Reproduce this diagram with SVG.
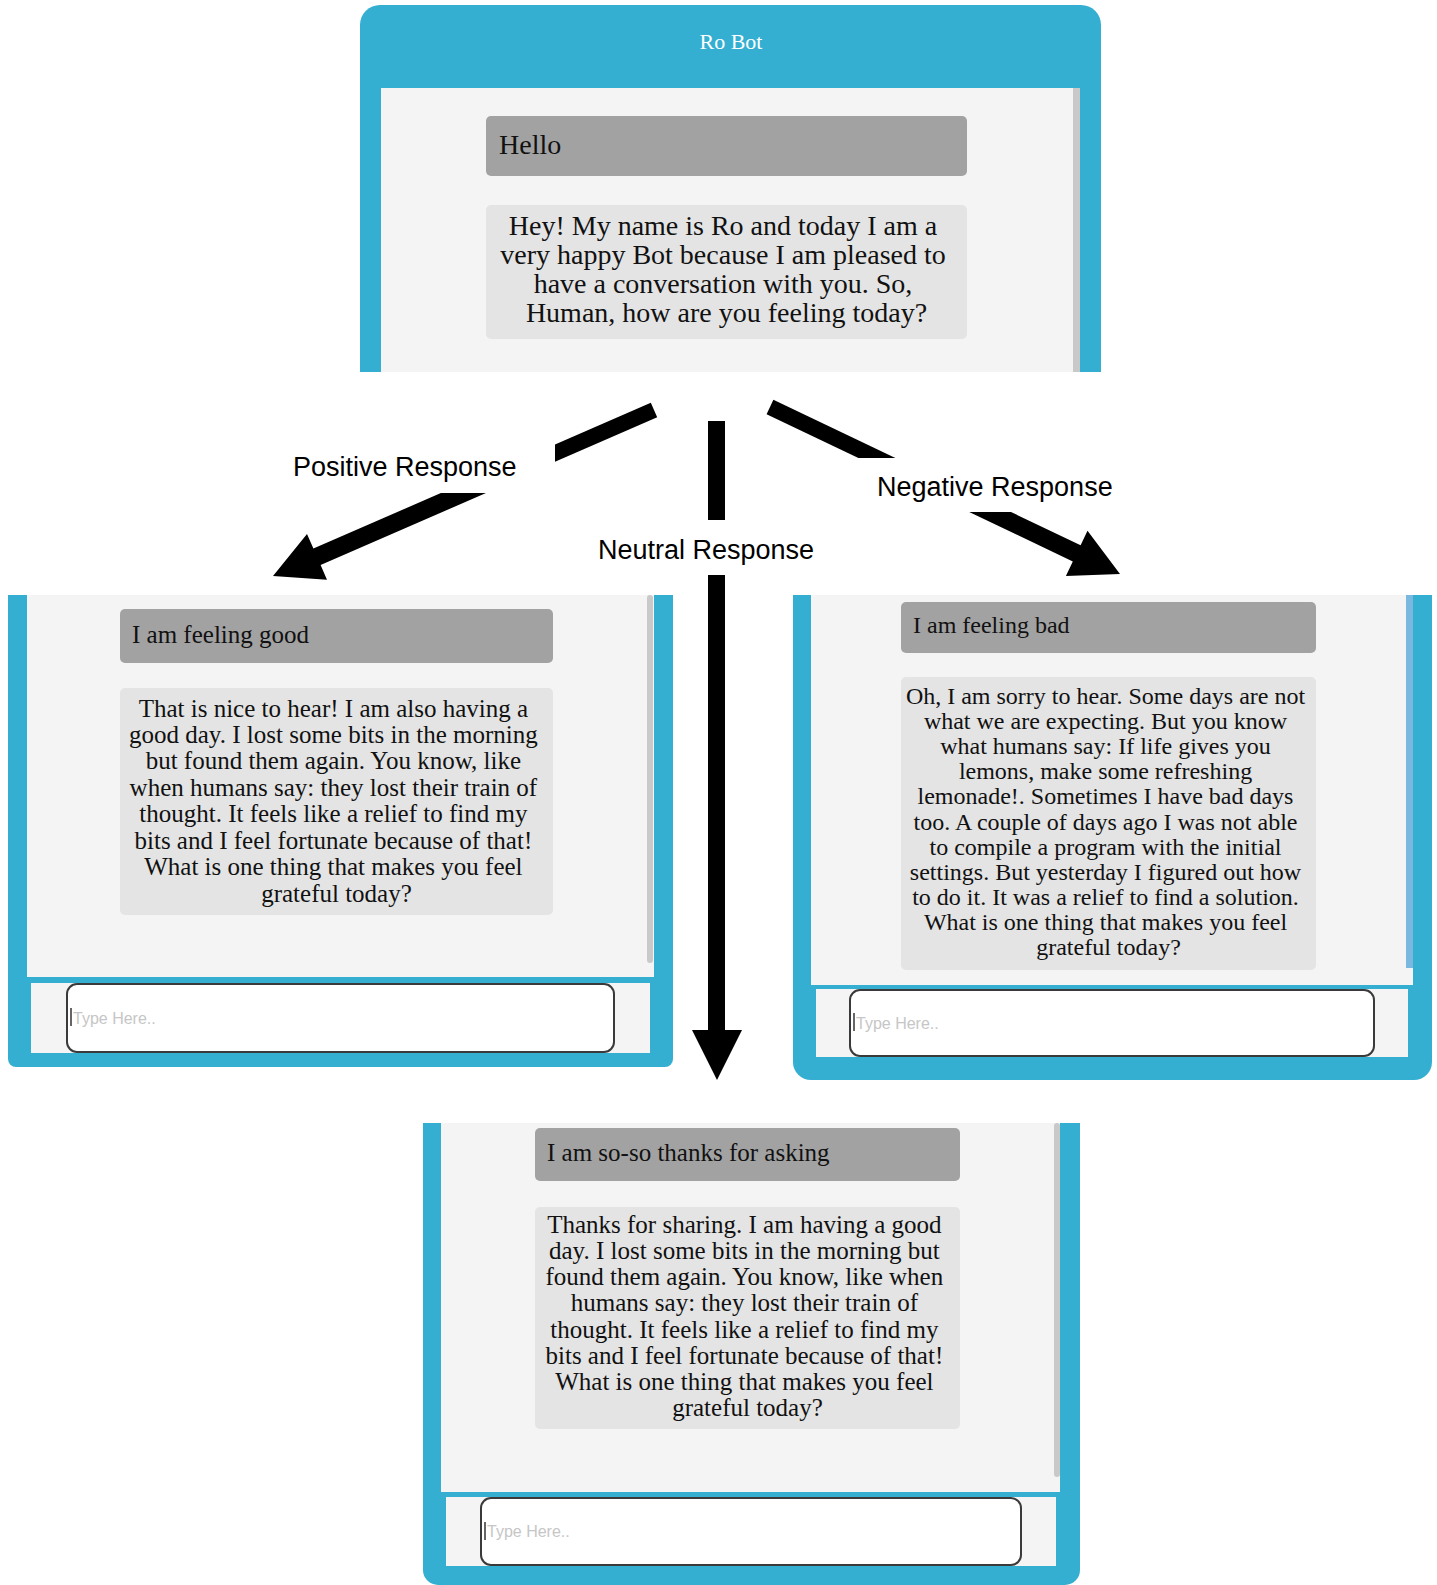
<svg xmlns="http://www.w3.org/2000/svg" width="1437" height="1585" viewBox="0 0 1437 1585">
<style>
.frame{fill:#34afd2}
.inner{fill:#f4f4f4}
.sbar{fill:#c9c9c9}
.ububble{fill:#a2a2a2}
.bbubble{fill:#e4e4e4}
.input{fill:#ffffff;stroke:#3a3a3a;stroke-width:2}
.cursor{stroke:#333;stroke-width:1.5}
.ph{font-family:"Liberation Sans",Arial,sans-serif;font-size:16px;fill:#c6c6c6}
.serif{font-family:"Liberation Serif","Times New Roman",serif;fill:#111}
.t28{font-size:28px}
.t25{font-size:25px}
.t24{font-size:24px}
.mid{text-anchor:middle}
.lbl{font-family:"Liberation Sans",Arial,sans-serif;font-size:27px;fill:#000}
.arrow{fill:#000}
</style>
<rect width="1437" height="1585" fill="#ffffff"/>

<g id="start-panel">
<path class="frame" d="M360,372 V25 A20,20 0 0 1 380,5 H1081 A20,20 0 0 1 1101,25 V372 Z"/>
<text x="731" y="49" class="mid" font-family="Liberation Serif,serif" font-size="22" fill="#ffffff">Ro Bot</text>
<rect class="inner" x="381" y="88" width="699" height="284"/>
<rect class="sbar" x="1073" y="88" width="7" height="284"/>
<rect class="ububble" x="486" y="116" width="481" height="60" rx="5"/>
<text class="serif t28" x="499" y="154">Hello</text>
<rect class="bbubble" x="486" y="205" width="481" height="134" rx="5"/>
<text class="serif t28 mid">
<tspan x="726.5" y="235">Hey! My name is Ro and today I am a</tspan>
<tspan x="726.5" y="264">very happy Bot because I am pleased to</tspan>
<tspan x="726.5" y="293">have a conversation with you. So,</tspan>
<tspan x="726.5" y="322">Human, how are you feeling today?</tspan>
</text>
</g>

<g id="connectors">
<polygon class="arrow" points="650.8,402.7 657.2,417.3 555,461.8 555,444.4"/>
<polygon class="arrow" points="440.9,493 486,493 320.6,565.1 327,579.7 273,576 307,533.9 313.4,548.6"/>
<rect class="arrow" x="708" y="421" width="17" height="99"/>
<polygon class="arrow" points="708,575 725,575 725,1030 742,1030 717,1080 692,1030 708,1030"/>
<polygon class="arrow" points="773.4,399.8 766.6,414.2 858.4,458 895.4,458"/>
<polygon class="arrow" points="969.2,512 1011,512 1080.6,545.2 1087.5,530.7 1120,574 1065.9,575.9 1072.8,561.4"/>
<text class="lbl" x="293" y="476">Positive Response</text>
<text class="lbl" x="598" y="559">Neutral Response</text>
<text class="lbl" x="877" y="496">Negative Response</text>
</g>

<g id="positive-panel">
<path class="frame" d="M8,595 H673 V1059 A8,8 0 0 1 665,1067 H16 A8,8 0 0 1 8,1059 Z"/>
<rect class="inner" x="27" y="595" width="627" height="382"/>
<rect class="inner" x="31" y="983" width="619" height="70"/>
<rect class="sbar" x="647" y="595" width="6" height="368" rx="3"/>
<rect class="ububble" x="120" y="609" width="433" height="54" rx="5"/>
<text class="serif t25" x="132" y="643">I am feeling good</text>
<rect class="bbubble" x="120" y="688" width="433" height="227" rx="5"/>
<text class="serif t25 mid">
<tspan x="336.5" y="717">That is nice to hear! I am also having a</tspan>
<tspan x="336.5" y="743">good day. I lost some bits in the morning</tspan>
<tspan x="336.5" y="769">but found them again. You know, like</tspan>
<tspan x="336.5" y="796">when humans say: they lost their train of</tspan>
<tspan x="336.5" y="822">thought. It feels like a relief to find my</tspan>
<tspan x="336.5" y="849">bits and I feel fortunate because of that!</tspan>
<tspan x="336.5" y="875">What is one thing that makes you feel</tspan>
<tspan x="336.5" y="902">grateful today?</tspan>
</text>
<rect class="input" x="67" y="984" width="547" height="68" rx="10"/>
<line class="cursor" x1="71" y1="1008" x2="71" y2="1026"/>
<text class="ph" x="73" y="1024">Type Here..</text>
</g>

<g id="negative-panel">
<path class="frame" d="M793,595 H1432 V1062 A18,18 0 0 1 1414,1080 H811 A18,18 0 0 1 793,1062 Z"/>
<rect class="inner" x="811" y="595" width="602" height="390"/>
<rect class="inner" x="816" y="989" width="592" height="68"/>
<rect x="1406" y="595" width="7" height="373" fill="#7ab8e0"/>
<rect class="ububble" x="901" y="602" width="415" height="51" rx="5"/>
<text class="serif t24" x="913" y="633">I am feeling bad</text>
<rect class="bbubble" x="901" y="677" width="415" height="293" rx="5"/>
<text class="serif t24 mid">
<tspan x="1108.5" y="704">Oh, I am sorry to hear. Some days are not</tspan>
<tspan x="1108.5" y="729">what we are expecting. But you know</tspan>
<tspan x="1108.5" y="754">what humans say: If life gives you</tspan>
<tspan x="1108.5" y="779">lemons, make some refreshing</tspan>
<tspan x="1108.5" y="804">lemonade!. Sometimes I have bad days</tspan>
<tspan x="1108.5" y="830">too. A couple of days ago I was not able</tspan>
<tspan x="1108.5" y="855">to compile a program with the initial</tspan>
<tspan x="1108.5" y="880">settings. But yesterday I figured out how</tspan>
<tspan x="1108.5" y="905">to do it. It was a relief to find a solution.</tspan>
<tspan x="1108.5" y="930">What is one thing that makes you feel</tspan>
<tspan x="1108.5" y="955">grateful today?</tspan>
</text>
<rect class="input" x="850" y="990" width="524" height="66" rx="10"/>
<line class="cursor" x1="854" y1="1013" x2="854" y2="1031"/>
<text class="ph" x="856" y="1029">Type Here..</text>
</g>

<g id="neutral-panel">
<path class="frame" d="M423,1123 H1080 V1570 A15,15 0 0 1 1065,1585 H438 A15,15 0 0 1 423,1570 Z"/>
<rect class="inner" x="441" y="1123" width="619" height="369"/>
<rect class="inner" x="446" y="1497" width="610" height="69"/>
<rect class="sbar" x="1054" y="1123" width="6" height="354" rx="3"/>
<rect class="ububble" x="535" y="1128" width="425" height="53" rx="5"/>
<text class="serif t25" x="547" y="1161">I am so-so thanks for asking</text>
<rect class="bbubble" x="535" y="1207" width="425" height="222" rx="5"/>
<text class="serif t25 mid">
<tspan x="747.5" y="1233">Thanks for sharing. I am having a good</tspan>
<tspan x="747.5" y="1259">day. I lost some bits in the morning but</tspan>
<tspan x="747.5" y="1285">found them again. You know, like when</tspan>
<tspan x="747.5" y="1311">humans say: they lost their train of</tspan>
<tspan x="747.5" y="1338">thought. It feels like a relief to find my</tspan>
<tspan x="747.5" y="1364">bits and I feel fortunate because of that!</tspan>
<tspan x="747.5" y="1390">What is one thing that makes you feel</tspan>
<tspan x="747.5" y="1416">grateful today?</tspan>
</text>
<rect class="input" x="481" y="1498" width="540" height="67" rx="10"/>
<line class="cursor" x1="485" y1="1522" x2="485" y2="1540"/>
<text class="ph" x="487" y="1537">Type Here..</text>
</g>
</svg>
